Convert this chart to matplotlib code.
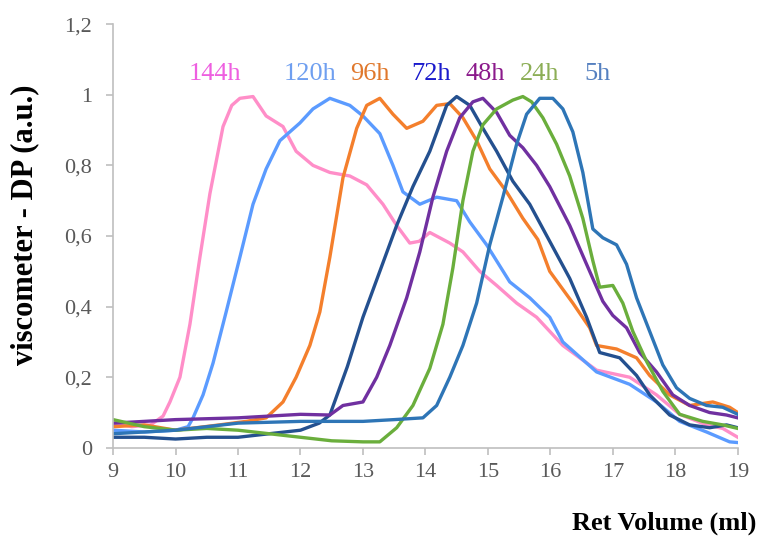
import numpy as np
import matplotlib.pyplot as plt

# Ret volume (ml) / detector signal
x_144 = [9.0, 9.3, 9.6, 9.8, 9.91, 10.07, 10.23, 10.39, 10.55, 10.76, 10.9, 11.03, 11.24, 11.45, 11.72,
         11.93, 12.2, 12.47, 12.79, 13.06, 13.32, 13.54, 13.75, 13.9, 14.07, 14.39, 14.6, 14.87, 15.14,
         15.46, 15.78, 16.2, 16.74, 17.27, 17.7, 18.07, 18.5, 18.76, 19.0]
y_144 = [0.07, 0.06, 0.065, 0.09, 0.13, 0.2, 0.35, 0.54, 0.72, 0.91, 0.97, 0.99, 0.995, 0.94, 0.91,
         0.84, 0.8, 0.78, 0.77, 0.745, 0.69, 0.63, 0.58, 0.585, 0.61, 0.58, 0.555, 0.5, 0.46,
         0.41, 0.37, 0.29, 0.22, 0.2, 0.15, 0.095, 0.065, 0.055, 0.03]

x_120 = [9.0, 9.5, 10.0, 10.2, 10.28, 10.44, 10.6, 10.81, 11.03, 11.24, 11.45, 11.67, 11.99, 12.2, 12.47,
         12.79, 13.0, 13.27, 13.48, 13.64, 13.91, 14.18, 14.5, 14.71, 14.98, 15.35, 15.67, 15.99,
         16.2, 16.74, 17.27, 17.7, 18.07, 18.5, 18.87, 19.0]
y_120 = [0.05, 0.045, 0.05, 0.06, 0.085, 0.15, 0.24, 0.385, 0.54, 0.69, 0.79, 0.87, 0.92, 0.96, 0.99,
         0.97, 0.94, 0.89, 0.8, 0.725, 0.69, 0.71, 0.7, 0.64, 0.575, 0.47, 0.425, 0.37,
         0.3, 0.215, 0.18, 0.13, 0.075, 0.045, 0.017, 0.015]

x_96 = [9.0, 9.5, 10.0, 10.33, 10.7, 11.13, 11.45, 11.72, 11.93, 12.15, 12.31, 12.47, 12.68, 12.9, 13.06,
        13.27, 13.48, 13.7, 13.96, 14.18, 14.39, 14.6, 14.82, 15.03, 15.3, 15.56, 15.8, 15.99, 16.36,
        16.63, 16.74, 17.06, 17.38, 17.59, 17.91, 18.23, 18.6, 18.87, 19.0]
y_96 = [0.06, 0.065, 0.05, 0.057, 0.065, 0.075, 0.085, 0.13, 0.2, 0.29, 0.385, 0.54, 0.765, 0.905, 0.97,
        0.99, 0.945, 0.905, 0.925, 0.97, 0.975, 0.935, 0.87, 0.79, 0.725, 0.65, 0.59, 0.5, 0.41,
        0.34, 0.29, 0.28, 0.255, 0.205, 0.15, 0.12, 0.13, 0.115, 0.1]

x_72 = [9.0, 9.5, 10.0, 10.5, 11.0, 11.5, 12.0, 12.3, 12.47, 12.75, 13.0, 13.27, 13.54, 13.8, 14.07, 14.34,
        14.5, 14.71, 14.92, 15.14, 15.4, 15.67, 15.99, 16.31, 16.58, 16.79, 17.11, 17.38, 17.59,
        17.91, 18.23, 18.55, 18.82, 19.0]
y_72 = [0.03, 0.03, 0.025, 0.03, 0.03, 0.04, 0.05, 0.07, 0.093, 0.23, 0.37, 0.5, 0.63, 0.74, 0.84, 0.97,
        0.995, 0.97, 0.905, 0.84, 0.755, 0.69, 0.585, 0.48, 0.37, 0.27, 0.255, 0.205, 0.15,
        0.093, 0.065, 0.057, 0.065, 0.057]

x_48 = [9.0, 10.0, 11.0, 12.0, 12.47, 12.68, 13.0, 13.22, 13.43, 13.7, 13.91, 14.12, 14.34, 14.55, 14.76,
        14.92, 15.14, 15.35, 15.56, 15.78, 15.99, 16.31, 16.58, 16.84, 17.0, 17.22, 17.43, 17.7,
        17.96, 18.23, 18.55, 18.82, 19.0]
y_48 = [0.07, 0.08, 0.085, 0.095, 0.093, 0.12, 0.13, 0.2, 0.29, 0.425, 0.555, 0.71, 0.84, 0.935, 0.98,
        0.99, 0.95, 0.885, 0.85, 0.8, 0.74, 0.63, 0.52, 0.415, 0.375, 0.34, 0.27, 0.215,
        0.15, 0.12, 0.1, 0.093, 0.085]

x_24 = [9.0, 9.5, 10.0, 10.5, 11.0, 11.5, 12.0, 12.5, 13.0, 13.27, 13.54, 13.8, 14.07, 14.28, 14.44, 14.6,
        14.76, 14.92, 15.14, 15.4, 15.56, 15.7, 15.88, 16.1, 16.31, 16.52, 16.68, 16.79, 17.0, 17.16,
        17.32, 17.54, 17.8, 18.07, 18.44, 18.76, 19.0]
y_24 = [0.08, 0.06, 0.05, 0.055, 0.05, 0.04, 0.03, 0.02, 0.017, 0.017, 0.057, 0.12, 0.225, 0.35, 0.51, 0.7,
        0.84, 0.915, 0.96, 0.985, 0.995, 0.98, 0.935, 0.86, 0.77, 0.65, 0.53, 0.455, 0.46, 0.41,
        0.33, 0.245, 0.16, 0.095, 0.075, 0.065, 0.055]

x_5 = [9.0, 10.0, 11.0, 12.0, 13.0, 13.5, 13.96, 14.18, 14.39, 14.6, 14.82, 15.03, 15.24, 15.46, 15.62,
       15.83, 16.04, 16.2, 16.36, 16.52, 16.68, 16.84, 17.06, 17.22, 17.38, 17.59, 17.8, 18.02,
       18.23, 18.5, 18.76, 19.0]
y_5 = [0.04, 0.05, 0.07, 0.075, 0.075, 0.08, 0.085, 0.12, 0.2, 0.29, 0.41, 0.575, 0.71, 0.86, 0.945,
       0.99, 0.99, 0.96, 0.895, 0.78, 0.62, 0.595, 0.575, 0.52, 0.425, 0.33, 0.235, 0.17,
       0.14, 0.12, 0.115, 0.095]

labels = ["144h", "120h", "96h", "72h", "48h", "24h", "5h"]
label_x = [10.63, 12.15, 13.11, 14.09, 14.95, 15.83, 16.76]
line_colors = ["#ff8ec8", "#5b9bff", "#f47f2c", "#24508f", "#7030a0", "#6aae3c", "#2e75b6"]
text_colors = ["#ee5fe0", "#6f9ff0", "#e0782c", "#1a1acc", "#8b1a8b", "#8cae56", "#5580c0"]

series = [(x_144, y_144), (x_120, y_120), (x_96, y_96), (x_72, y_72),
          (x_48, y_48), (x_24, y_24), (x_5, y_5)]

fig = plt.figure(figsize=(7.59, 5.37), dpi=100)
ax = fig.add_axes([0.149, 0.166, 0.823, 0.789])

for (xs, ys), c in zip(series, line_colors):
    ax.plot(xs, ys, color=c, lw=2.4)

for lab, lx, tc in zip(labels, label_x, text_colors):
    ax.text(lx, 1.06, lab, color=tc, fontsize=19, family="Liberation Serif",
            ha="center", va="center")

ax.set_xlim(9, 19)
ax.set_ylim(0, 1.2)
ax.set_xticks(np.arange(9, 20, 1))
ax.set_yticks([0, 0.2, 0.4, 0.6, 0.8, 1.0, 1.2])
ax.set_yticklabels(["0", "0,2", "0,4", "0,6", "0,8", "1", "1,2"])

for s in ["top", "right"]:
    ax.spines[s].set_visible(False)
for s in ["left", "bottom"]:
    ax.spines[s].set_color("#bfbfbf")
    ax.spines[s].set_linewidth(1.2)
ax.tick_params(colors="#bfbfbf", length=5, width=1.2, labelcolor="#595959", labelsize=16)
ax.tick_params(axis="y", pad=10)
ax.tick_params(axis="x", pad=6)
for t in ax.get_xticklabels() + ax.get_yticklabels():
    t.set_family("Liberation Serif")

ax.set_ylabel("viscometer - DP (a.u.)", fontsize=22, fontweight="bold", family="Liberation Serif",
              va="center")
ax.yaxis.set_label_coords(-0.142, 0.526)
ax.set_xlabel("Ret Volume (ml)", fontsize=19, fontweight="bold", family="Liberation Serif",
              ha="right", va="center")
ax.xaxis.set_label_coords(1.03, -0.177)

fig.savefig("out.png", dpi=100)
